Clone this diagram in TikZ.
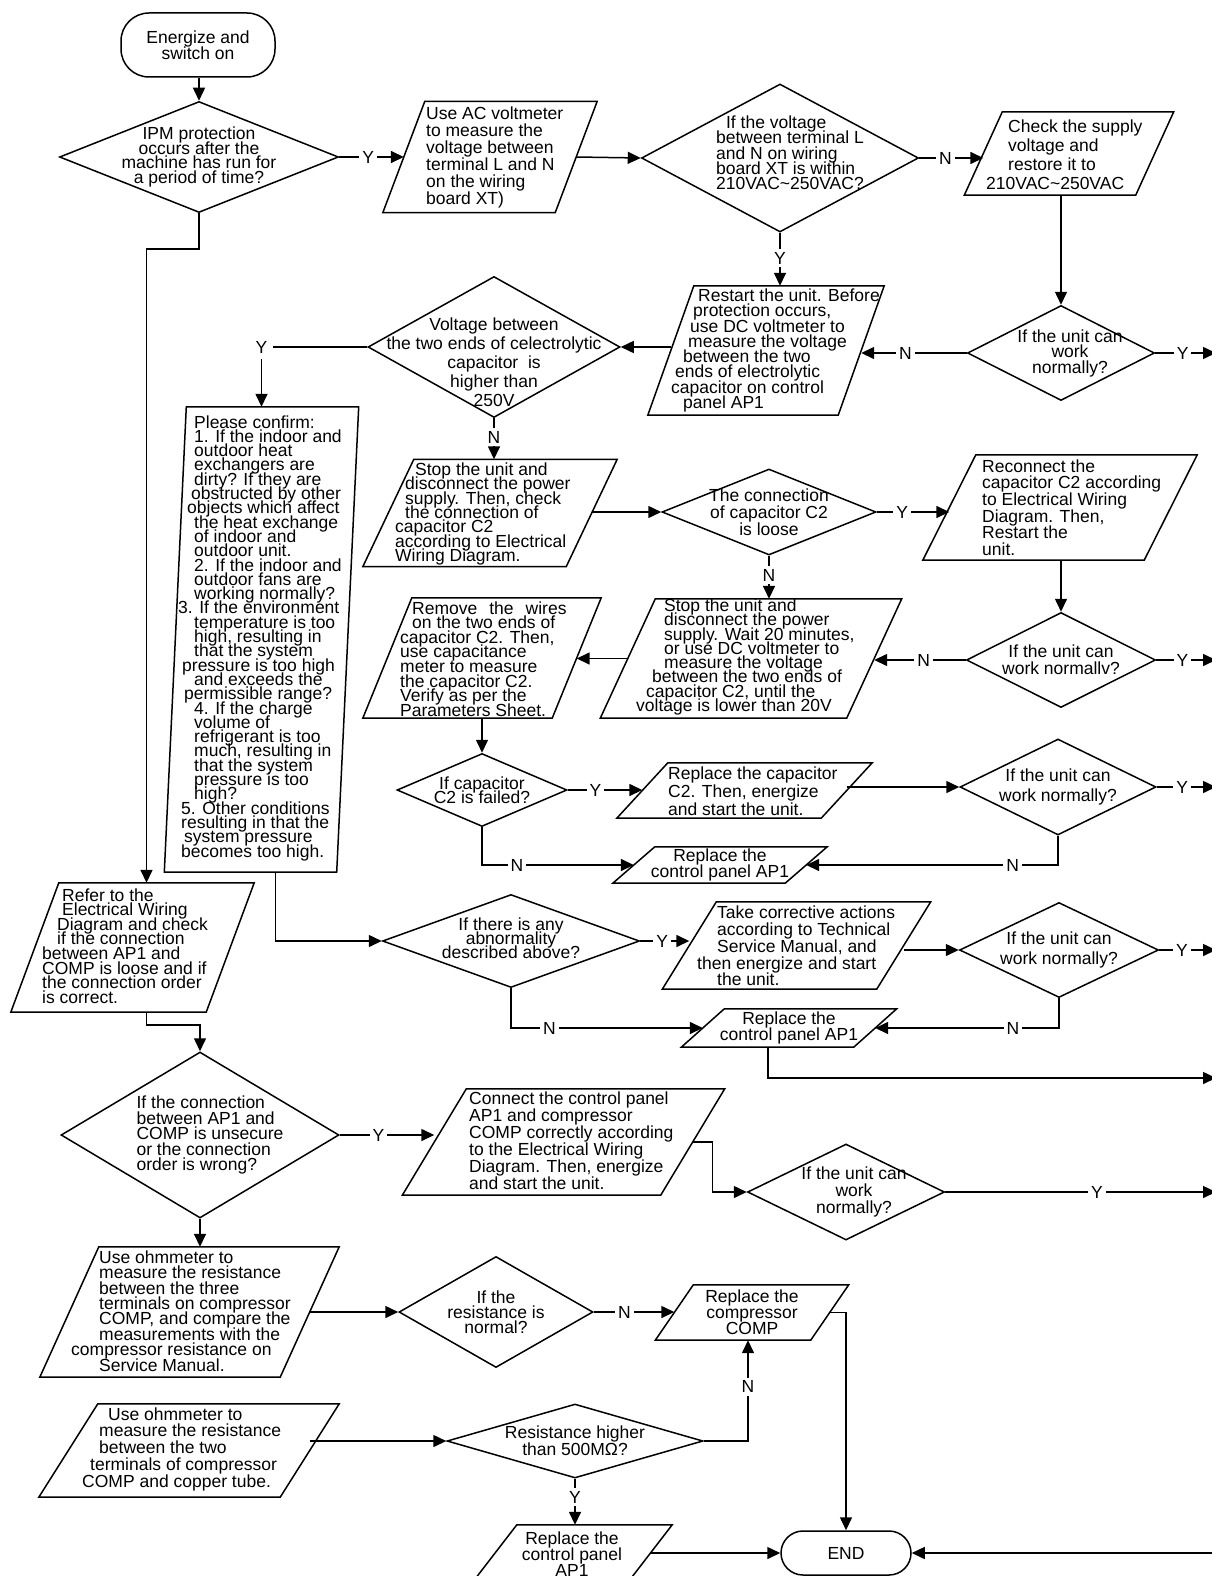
\documentclass[tikz,border=0pt]{standalone}
\usepackage{fontspec}
\setmainfont{Liberation Sans}
\usetikzlibrary{shapes.geometric, arrows.meta}
\newcommand{\tf}[1]{\fontsize{17.5}{#1}\selectfont\lineskiplimit=-50pt\relax}
\newcommand{\ind}[1]{\hspace*{#1pt}}

\begin{document}
\begin{tikzpicture}[x=1pt, y=-1pt,
    every node/.style={font=\tf{16}},
    box/.style={draw, line width=1.5pt, line join=miter},
    term/.style={box, rounded corners=22pt, inner sep=0pt, align=center},
    dec/.style={box, diamond, inner sep=0pt},
    dtxt/.style={align=center, inner sep=0pt, font=\tf{#1}},
    ptxt/.style={align=left, anchor=west, inner sep=0pt, font=\tf{#1}},
    para/.style={inner sep=0pt,
      append after command={\pgfextra{\begin{pgfinterruptpath}
        \draw[box] ([xshift=-#1]\tikzlastnode.south west) -- ([xshift=-#1]\tikzlastnode.south east)
          -- ([xshift=#1]\tikzlastnode.north east) -- ([xshift=#1]\tikzlastnode.north west) -- cycle;
      \end{pgfinterruptpath}}}},
    arr/.style={-{Triangle[length=13pt, width=12pt]}, line width=1.5pt},
    lab/.style={fill=white, inner sep=3pt}
]
  \fill[white] (0,0) rectangle (1211,1576);
  \useasboundingbox (0,0) rectangle (1211,1576);

  % Start and supply voltage check
  \node[term, rounded corners=28pt, minimum width=154pt, minimum height=64pt] (start) at (198,45) {Energize and\\switch on};
  \node[dec, minimum width=279pt, minimum height=111pt,
    label={[dtxt=14.7]center:{IPM protection\\occurs after the\\machine has run for\\a period of time?}}] (ipm) at (199,157) {};
  \node[para=21pt, minimum width=172pt, minimum height=111pt] (acv) at (490,157) {};
  \node[ptxt=17] (acv-t) at (426,157) {Use AC voltmeter\\to measure the\\voltage between\\terminal L and N\\on the wiring\\board XT)};
  \node[dec, minimum width=277pt, minimum height=148pt,
    label={[dtxt=15.3, align=left, xshift=10pt, yshift=5pt]center:{\ind{10}If the voltage\\between terminal L\\and N on wiring\\board XT is within\\210VAC\textasciitilde 250VAC?}}] (vxt) at (780,158) {};
  \node[para=19pt, minimum width=171pt, minimum height=83pt] (chk) at (1069,153.5) {};
  \node[ptxt=19] (chk-t) at (1008,155) {Check the supply\\voltage and\\restore it to\\\ind{-22}210VAC\textasciitilde 250VAC};
  \node[dec, minimum width=187pt, minimum height=95pt,
    label={[dtxt=15.5, xshift=9pt]center:{If the unit can\\work\\normally?}}] (w1) at (1061,353) {};
  \node[para=23pt, minimum width=190pt, minimum height=129pt] (rst) at (766,350.5) {};
  \node[ptxt=15.3] (rst-t) at (698,350.5) {Restart the unit. Before\\\ind{-5}protection occurs,\\\ind{-8}use DC voltmeter to\\\ind{-10}measure the voltage\\\ind{-15}between the two\\\ind{-23}ends of electrolytic\\\ind{-27}capacitor on control\\\ind{-15}panel AP1};
  \node[dec, minimum width=252pt, minimum height=141pt,
    label={[dtxt=19, yshift=-15pt]center:{Voltage between\\the two ends of celectrolytic\\capacitor\ \ is\\higher than\\250V}}] (vcap) at (494,347) {};

  % Checklist box
  \node[para=11pt, minimum width=172pt, minimum height=465pt] (pls) at (261.5,639.5) {};
  \node[ptxt=14.3] (pls-t) at (194,638) {Please confirm:\\1. If the indoor and\\outdoor heat\\exchangers are\\dirty? If they are\\\ind{-3}obstructed by other\\\ind{-7}objects which affect\\the heat exchange\\of indoor and\\outdoor unit.\\2. If the indoor and\\outdoor fans are\\working normally?\\\ind{-16}3. If the environment\\temperature is too\\high, resulting in\\that the system\\\ind{-12}pressure is too high\\and exceeds the\\\ind{-10}permissible range?\\4. If the charge\\volume of\\refrigerant is too\\much, resulting in\\that the system\\pressure is too\\high?\\\ind{-13}5. Other conditions\\\ind{-13}resulting in that the\\\ind{-10}system pressure\\\ind{-13}becomes too high.};

  % Capacitor C2 branch
  \node[para=25.5pt, minimum width=203pt, minimum height=107pt] (stop1) at (490,513) {};
  \node[ptxt=14.3] (stop1-t) at (415,514) {Stop the unit and\\\ind{-10}disconnect the power\\\ind{-10}supply. Then, check\\\ind{-10}the connection of\\\ind{-20}capacitor C2\\\ind{-20}according to Electrical\\\ind{-20}Wiring Diagram.};
  \node[dec, minimum width=214pt, minimum height=86pt,
    label={[dtxt=17]center:{The connection\\of capacitor C2\\is loose}}] (loose) at (769,512) {};
  \node[para=26.5pt, minimum width=221pt, minimum height=105pt] (recon) at (1060,507.5) {};
  \node[ptxt=16.6] (recon-t) at (982,507.5) {Reconnect the\\capacitor C2 according\\to Electrical Wiring\\Diagram. Then,\\Restart the\\unit.};
  \node[dec, minimum width=189pt, minimum height=95pt,
    label={[dtxt=17]center:{If the unit can\\work normallv?}}] (w2) at (1061,660) {};
  \node[para=27.5pt, minimum width=246pt, minimum height=119pt] (stop2) at (751,658.5) {};
  \node[ptxt=14.3] (stop2-t) at (664,657) {Stop the unit and\\disconnect the power\\supply. Wait 20 minutes,\\or use DC voltmeter to\\measure the voltage\\\ind{-12}between the two ends of\\\ind{-18}capacitor C2, until the\\\ind{-28}voltage is lower than 20V};
  \node[para=24.5pt, minimum width=189pt, minimum height=120pt] (rmv) at (482,658) {};
  \node[ptxt=14.6] (rmv-t) at (412,659) {Remove\hspace{12pt}the\hspace{12pt}wires\\on the two ends of\\\ind{-12}capacitor C2. Then,\\\ind{-12}use capacitance\\\ind{-12}meter to measure\\\ind{-12}the capacitor C2.\\\ind{-12}Verify as per the\\\ind{-12}Parameters Sheet.};
  \node[dec, minimum width=170pt, minimum height=73pt,
    label={[dtxt=13.5]center:{If capacitor\\C2 is failed?}}] (fail) at (482,790) {};
  \node[para=25.5pt, minimum width=204pt, minimum height=55pt] (repc) at (744.5,790.5) {};
  \node[ptxt=18] (repc-t) at (668,791) {Replace the capacitor\\C2. Then, energize\\and start the unit.};
  \node[dec, minimum width=196pt, minimum height=96pt,
    label={[dtxt=20]center:{If the unit can\\work normally?}}] (w3) at (1058,787) {};
  \node[para=21pt, minimum width=172pt, minimum height=36pt,
    label={[dtxt=16]center:{Replace the\\control panel AP1}}] (rap1) at (720,865) {};

  % Wiring and abnormality checks
  \node[para=24pt, minimum width=195pt, minimum height=129pt] (refer) at (132.5,947.5) {};
  \node[ptxt=14.6] (refer-t) at (62,946) {Refer to the\\Electrical Wiring\\\ind{-5}Diagram and check\\\ind{-5}if the connection\\\ind{-20}between AP1 and\\\ind{-20}COMP is loose and if\\\ind{-20}the connection order\\\ind{-20}is correct.};
  \node[dec, minimum width=257pt, minimum height=93pt,
    label={[dtxt=14, yshift=3pt]center:{If there is any\\abnormality\\described above?}}] (abn) at (511,941) {};
  \node[para=27pt, minimum width=214pt, minimum height=87pt] (take) at (796.5,945.5) {};
  \node[ptxt=16.8] (take-t) at (717,946) {Take corrective actions\\according to Technical\\Service Manual, and\\\ind{-20}then energize and start\\the unit.};
  \node[dec, minimum width=199pt, minimum height=95pt,
    label={[dtxt=20]center:{If the unit can\\work normally?}}] (w4) at (1059,950) {};
  \node[para=21.5pt, minimum width=172pt, minimum height=38pt,
    label={[dtxt=16]center:{Replace the\\control panel AP1}}] (rap2) at (789,1028) {};
  \node[dec, minimum width=278pt, minimum height=166pt,
    label={[dtxt=15.5, align=left, xshift=10pt]center:{If the connection\\between AP1 and\\COMP is unsecure\\or the connection\\order is wrong?}}] (order) at (200,1135) {};
  \node[para=32pt, minimum width=258pt, minimum height=106pt] (corr) at (563.5,1142) {};
  \node[ptxt=17] (corr-t) at (469,1141) {Connect the control panel\\AP1 and compressor\\COMP correctly according\\to the Electrical Wiring\\Diagram. Then, energize\\and start the unit.};
  \node[dec, minimum width=197pt, minimum height=96pt,
    label={[dtxt=17, xshift=8pt]center:{If the unit can\\work\\normally?}}] (w5) at (846,1192) {};

  % Compressor checks
  \node[para=29.5pt, minimum width=240pt, minimum height=130pt] (ohm1) at (189.5,1312) {};
  \node[ptxt=15.4] (ohm1-t) at (99,1311) {Use ohmmeter to\\measure the resistance\\between the three\\terminals on compressor\\COMP, and compare the\\measurements with the\\\ind{-28}compressor resistance on\\Service Manual.};
  \node[dec, minimum width=194pt, minimum height=111pt,
    label={[dtxt=15]center:{If the\\resistance is\\normal?}}] (res) at (496,1312) {};
  \node[para=19pt, minimum width=155pt, minimum height=55pt,
    label={[dtxt=16]center:{Replace the\\compressor\\COMP}}] (rcomp) at (752,1312.5) {};
  \node[para=29.5pt, minimum width=241pt, minimum height=93pt] (ohm2) at (189,1450.5) {};
  \node[ptxt=16.75] (ohm2-t) at (108,1449) {Use ohmmeter to\\\ind{-9}measure the resistance\\\ind{-9}between the two\\\ind{-18}terminals of compressor\\\ind{-26}COMP and copper tube.};
  \node[dec, minimum width=256pt, minimum height=74pt,
    label={[dtxt=17]center:{Resistance higher\\than 500MΩ?}}] (hi) at (575,1441) {};
  \node[para=22.5pt, minimum width=155pt, minimum height=58pt,
    label={[dtxt=16]center:{Replace the\\control panel\\AP1}}] (rap3) at (572,1554) {};
  \node[term, minimum width=130pt, minimum height=44pt] (end) at (846,1553) {END};

  % Exits to the right edge
  \coordinate (e1) at (1216,353);
  \coordinate (e2) at (1216,660);
  \coordinate (e3) at (1216,787);
  \coordinate (e4) at (1216,950);
  \coordinate (e5) at (1216,1078);
  \coordinate (e6) at (1216,1192);
  \coordinate (e7) at (1216,1553);

  % Connectors
  \draw[arr] (start.south -| ipm.north) -- (ipm.north);
  \draw[arr] (ipm.east) -- node[lab, pos=.45]{Y} (acv.west);
  \draw[arr] (acv.east) -- (vxt.west);
  \draw[arr] (vxt.east) -- node[lab, pos=.41]{N} (vxt.east -| chk.west);
  \draw[arr] (chk.south -| w1.north) -- (w1.north);
  \draw[arr] (vxt.south) -- node[lab, pos=.48]{Y} (vxt.south |- rst.north);
  \draw[arr] (w1.west) -- node[lab, pos=.58]{N} (w1.west -| rst.east);
  \draw[arr] (w1.east) -- node[lab, pos=.45]{Y} (e1);
  \draw[arr] (rst.west |- vcap.east) -- (vcap.east);
  \draw[arr] (vcap.west) -| node[lab, inner sep=6pt, pos=.5]{Y} (pls.north);
  \draw[arr] (vcap.south) -- node[lab, pos=.46]{N} (vcap.south |- stop1.north);
  \draw[arr] (stop1.east |- loose.west) -- (loose.west);
  \draw[arr] (loose.east) -- node[lab, pos=.35]{Y} (loose.east -| recon.west);
  \draw[arr] (recon.south -| w2.north) -- (w2.north);
  \draw[arr] (w2.west) -- node[lab, pos=.46]{N} (w2.west -| stop2.east);
  \draw[arr] (w2.east) -- node[lab, pos=.44]{Y} (e2);
  \draw[arr] (loose.south) -- node[lab, pos=.45]{N} (loose.south |- stop2.north);
  \draw[arr] (stop2.west) -- (stop2.west -| rmv.east);
  \draw[arr] (rmv.south -| fail.north) -- (fail.north);
  \draw[arr] (fail.east) -- node[lab, pos=.37]{Y} (fail.east -| repc.west);
  \draw[arr] (repc.east |- w3.west) -- (w3.west);
  \draw[arr] (w3.east) -- node[lab, pos=.43]{Y} (e3);
  \draw[arr] (w3.south) |- node[lab, pos=.59]{N} (rap1.east);
  \draw[arr] (fail.south) |- node[lab, pos=.615]{N} (rap1.west);
  \draw[arr] ([xshift=14pt]pls.south) |- (abn.west);
  \draw[arr] (abn.east) -- node[lab, pos=.45]{Y} (abn.east -| take.west);
  \draw[arr] (take.east |- w4.west) -- (w4.west);
  \draw[arr] (w4.east) -- node[lab, pos=.4]{Y} (e4);
  \draw[arr] (w4.south) |- node[lab, pos=.625]{N} (rap2.east);
  \draw[arr] (abn.south) |- node[lab, pos=.6]{N} (rap2.west);
  \draw[arr] ([xshift=-21pt]rap2.south) |- (e5);
  \draw[arr] (ipm.south) -- ++(0,35.5) -| ([xshift=14pt]refer.north);
  \draw[arr] ([xshift=14pt]refer.south) -- ++(0,13) -| (order.north);
  \draw[arr] (order.east) -- node[lab, pos=.41]{Y} (order.east -| corr.west);
  \draw[arr] (corr.east) -- ++(20,0) |- (w5.west);
  \draw[arr] (w5.east) -- node[lab, pos=.56]{Y} (e6);
  \draw[arr] (order.south) -- (order.south |- ohm1.north);
  \draw[arr] (ohm1.east) -- (res.west);
  \draw[arr] (res.east) -- node[lab, pos=.38]{N} (res.east -| rcomp.west);
  \draw[arr] (rcomp.east) -| (end.north);
  \draw[arr] (ohm2.east |- hi.west) -- (hi.west);
  \draw[arr] (hi.east) -| node[lab, pos=.77]{N} ([xshift=-4pt]rcomp.south);
  \draw[arr] (hi.south) -- node[lab, pos=.4]{Y} (hi.south |- rap3.north);
  \draw[arr] (rap3.east |- end.west) -- (end.west);
  \draw[arr] (e7) -- (end.east);
\end{tikzpicture}
\end{document}
